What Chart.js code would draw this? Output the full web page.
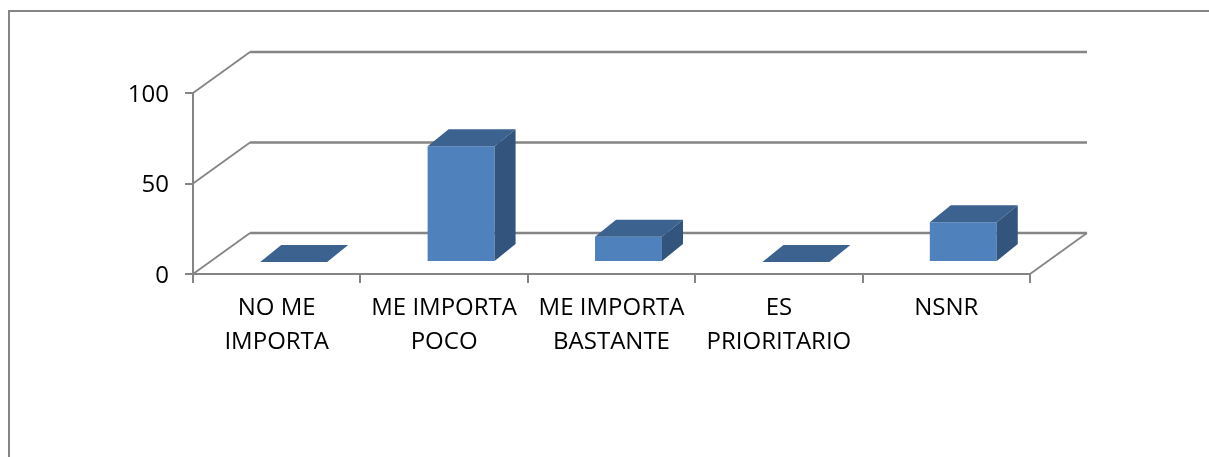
<!DOCTYPE html>
<html>
<head>
<meta charset="utf-8">
<script src="https://cdn.jsdelivr.net/npm/chart.js@4/dist/chart.umd.min.js"></script>
<style>
  html, body { margin: 0; padding: 0; background: #fff; }
  canvas { display: block; }
</style>
</head>
<body>
<canvas id="myChart" width="1209" height="457"></canvas>
<script>
// data
const categories = [
  ["NO ME", "IMPORTA"],
  ["ME IMPORTA", "POCO"],
  ["ME IMPORTA", "BASTANTE"],
  ["ES", "PRIORITARIO"],
  ["NSNR"]
]
const values = [0, 64, 14, 0, 22]
const yTicks = [0, 50, 100]

// 3d look
const WALL_DX = 57, WALL_DY = -41   // depth of the floor / back wall
const BAR_DX = 17, BAR_DY = -12     // where the bar front sits inside the floor
const SIDE_DX = 21, SIDE_DY = -17   // depth of each bar
const LINE = '#858585'

const frame = {
  id: 'frame',
  beforeDraw(chart) {
    const ctx = chart.ctx
    ctx.save()
    ctx.fillStyle = '#fff'
    ctx.fillRect(0, 0, chart.width, chart.height)
    ctx.strokeStyle = LINE
    ctx.lineWidth = 2
    ctx.strokeRect(9, 11, 1400, 600)
    ctx.restore()
  }
}

const walls = {
  id: 'walls',
  beforeDatasetsDraw(chart) {
    const ctx = chart.ctx
    const y = chart.scales.y
    const left = chart.chartArea.left, right = chart.chartArea.right
    ctx.save()
    ctx.strokeStyle = LINE
    yTicks.forEach((v) => {
      const py = y.getPixelForValue(v)
      ctx.lineWidth = 1.8
      ctx.beginPath()
      ctx.moveTo(left, py)
      ctx.lineTo(left + WALL_DX, py + WALL_DY)
      ctx.stroke()
      ctx.lineWidth = 2.6
      ctx.beginPath()
      ctx.moveTo(left + WALL_DX, py + WALL_DY)
      ctx.lineTo(right + WALL_DX, py + WALL_DY)
      ctx.stroke()
    })
    // right edge of the floor
    const base = y.getPixelForValue(0)
    ctx.lineWidth = 1.8
    ctx.beginPath()
    ctx.moveTo(right, base)
    ctx.lineTo(right + WALL_DX, base + WALL_DY)
    ctx.stroke()
    ctx.restore()

    // move the bars back into the floor
    ctx.save()
    ctx.translate(BAR_DX, BAR_DY)
  },
  afterDatasetsDraw(chart) {
    const ctx = chart.ctx
    const meta = chart.getDatasetMeta(0)
    meta.data.forEach((bar) => {
      const p = bar.getProps(['x', 'y', 'base', 'width'], true)
      const l = p.x - p.width / 2, r = p.x + p.width / 2
      const top = Math.min(p.y, p.base), bottom = Math.max(p.y, p.base)
      // top face
      ctx.fillStyle = '#3c628f'
      ctx.beginPath()
      ctx.moveTo(l, top)
      ctx.lineTo(r, top)
      ctx.lineTo(r + SIDE_DX, top + SIDE_DY)
      ctx.lineTo(l + SIDE_DX, top + SIDE_DY)
      ctx.closePath()
      ctx.fill()
      // side face
      if (bottom - top > 0.5) {
        ctx.fillStyle = '#33547c'
        ctx.beginPath()
        ctx.moveTo(r, top)
        ctx.lineTo(r + SIDE_DX, top + SIDE_DY)
        ctx.lineTo(r + SIDE_DX, bottom + SIDE_DY)
        ctx.lineTo(r, bottom)
        ctx.closePath()
        ctx.fill()
      }
    })
    ctx.restore()
  }
}

const ctx = document.getElementById('myChart')
const myChart = new Chart(ctx, {
  type: 'bar',
  data: {
    labels: categories,
    datasets: [{
      data: values,
      backgroundColor: '#4f81bd',
      borderWidth: 0,
      categoryPercentage: 1,
      barPercentage: 0.4,
      clip: false
    }]
  },
  plugins: [frame, walls],
  options: {
    responsive: false,
    animation: false,
    events: [],
    layout: {
      padding: { top: 93, right: 179, left: 0, bottom: 0 }
    },
    plugins: {
      legend: { display: false },
      tooltip: { enabled: false }
    },
    scales: {
      x: {
        afterFit: (scale) => { scale.height = 183 },
        grid: {
          drawOnChartArea: false,
          color: LINE,
          lineWidth: 2,
          tickLength: 9
        },
        border: { color: LINE, width: 2 },
        ticks: {
          color: '#000',
          padding: 9,
          maxRotation: 0,
          autoSkip: false,
          font: { family: '"Open Sans"', size: 24, lineHeight: 1.38 }
        }
      },
      y: {
        min: 0,
        max: 100,
        afterFit: (scale) => { scale.width = 193 },
        afterBuildTicks: (scale) => { scale.ticks = yTicks.map((v) => ({ value: v })) },
        grid: {
          drawOnChartArea: false,
          color: LINE,
          lineWidth: 2,
          tickLength: 8
        },
        border: { color: LINE, width: 2 },
        ticks: {
          color: '#000',
          padding: 16,
          labelOffset: 2,
          font: { family: '"Open Sans"', size: 24 }
        }
      }
    }
  }
})
</script>
</body>
</html>
